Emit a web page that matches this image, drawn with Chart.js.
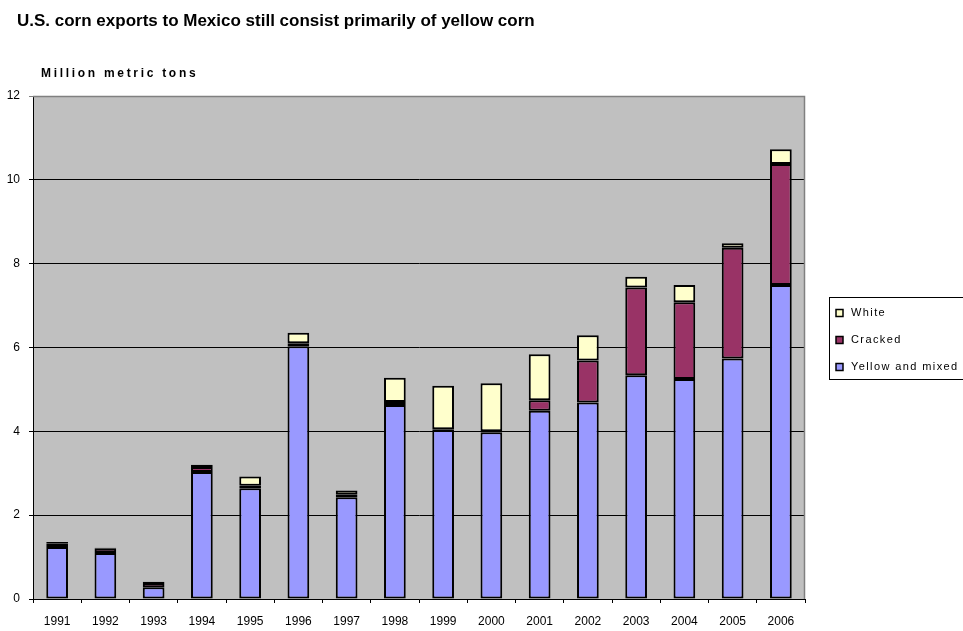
<!DOCTYPE html>
<html>
<head>
<meta charset="utf-8">
<script src="https://cdn.jsdelivr.net/npm/chart.js@4/dist/chart.umd.min.js"></script>
<style>
  html, body { margin: 0; padding: 0; background: #fff; }
  #wrap { width: 963px; height: 631px; position: relative; }
</style>
</head>
<body>
<div id="wrap"><canvas id="cornChart" width="963" height="631"></canvas></div>
<script>
// US corn exports to Mexico, million metric tons
const years = ['1991', '1992', '1993', '1994', '1995', '1996', '1997', '1998',
  '1999', '2000', '2001', '2002', '2003', '2004', '2005', '2006'];
const yellowMixed = [1.24, 1.10, 0.28, 3.03, 2.64, 6.03, 2.43, 4.63,
  4.03, 3.98, 4.49, 4.69, 5.34, 5.25, 5.74, 7.49];
const cracked = [0.08, 0.10, 0.10, 0.12, 0.06, 0.07, 0.06, 0.07,
  0.02, 0.02, 0.25, 1.00, 2.09, 1.83, 2.64, 2.89];
const white = [0.04, 0.02, 0.03, 0.05, 0.22, 0.25, 0.10, 0.58,
  1.04, 1.15, 1.10, 0.60, 0.26, 0.41, 0.11, 0.35];
const yTicks = [0, 2, 4, 6, 8, 10, 12];

const seriesColors = { yellow: '#9999FF', cracked: '#993366', white: '#FFFFCC' };
const fontFamily = 'Arial, "Liberation Sans", sans-serif';

// grey plot background, grey top/right frame, titles and boxed legend
const decorations = {
  id: 'decorations',
  beforeDraw(chart) {
    const { ctx, chartArea: a } = chart;
    ctx.save();
    ctx.fillStyle = '#C0C0C0';
    ctx.fillRect(a.left, a.top, a.right - a.left, a.bottom - a.top);
    ctx.restore();
  },
  afterDraw(chart) {
    const { ctx, chartArea: a } = chart;
    ctx.save();
    ctx.strokeStyle = '#808080';
    ctx.lineWidth = 1.5;
    ctx.beginPath();
    ctx.moveTo(a.left, a.top + 0.5);
    ctx.lineTo(a.right - 0.5, a.top + 0.5);
    ctx.lineTo(a.right - 0.5, a.bottom);
    ctx.stroke();

    ctx.fillStyle = '#000';
    ctx.textBaseline = 'middle';
    ctx.textAlign = 'left';
    ctx.font = 'bold 17px ' + fontFamily;
    ctx.fillText('U.S. corn exports to Mexico still consist primarily of yellow corn', 17, 21);
    ctx.font = 'bold 12px ' + fontFamily;
    ctx.letterSpacing = '2.7px';
    ctx.fillText('Million metric tons', 41, 74);

    // legend, listed top stack first
    ctx.letterSpacing = '1.4px';
    ctx.strokeStyle = '#000';
    ctx.lineWidth = 1;
    ctx.strokeRect(829.5, 297.5, 140, 82);
    ctx.font = '11px ' + fontFamily;
    const items = chart.data.datasets.slice().reverse();
    items.forEach((ds, i) => {
      const cy = 313 + i * 27;
      ctx.fillStyle = ds.backgroundColor;
      ctx.fillRect(836, cy - 3.5, 7, 7);
      ctx.lineWidth = 1.5;
      ctx.strokeRect(836, cy - 3.5, 7, 7);
      ctx.fillStyle = '#000';
      ctx.fillText(ds.label, 851, cy);
    });
    ctx.restore();
  }
};

new Chart(document.getElementById('cornChart'), {
  type: 'bar',
  data: {
    labels: years,
    datasets: [
      { label: 'Yellow and mixed', data: yellowMixed, backgroundColor: seriesColors.yellow },
      { label: 'Cracked', data: cracked, backgroundColor: seriesColors.cracked },
      { label: 'White', data: white, backgroundColor: seriesColors.white }
    ].map(ds => Object.assign(ds, {
      borderColor: '#000',
      borderWidth: 2,
      borderSkipped: false,
      categoryPercentage: 1,
      barPercentage: 0.45
    }))
  },
  options: {
    responsive: false,
    animation: false,
    layout: { padding: { left: 0, top: 96, right: 158, bottom: 0 } },
    plugins: {
      legend: { display: false },
      title: { display: false },
      tooltip: { enabled: false }
    },
    scales: {
      x: {
        stacked: true,
        afterFit: (scale) => { scale.height = 32; },
        border: { color: '#000', width: 1 },
        grid: { offset: true, drawOnChartArea: false, drawTicks: true, tickLength: 4, color: '#000' },
        ticks: {
          color: '#000',
          padding: 11,
          maxRotation: 0,
          font: { family: fontFamily, size: 12 }
        }
      },
      y: {
        stacked: true,
        min: yTicks[0],
        max: yTicks[yTicks.length - 1],
        afterFit: (scale) => { scale.width = 33; },
        afterBuildTicks: (scale) => { scale.ticks = yTicks.map(v => ({ value: v })); },
        border: { color: '#000', width: 1 },
        grid: {
          drawTicks: true,
          tickLength: 4,
          color: (c) => (c.tick && c.tick.value === 12 ? '#808080' : '#000')
        },
        ticks: {
          color: '#000',
          padding: 9,
          font: { family: fontFamily, size: 12 }
        }
      }
    }
  },
  plugins: [decorations]
});
</script>
</body>
</html>
